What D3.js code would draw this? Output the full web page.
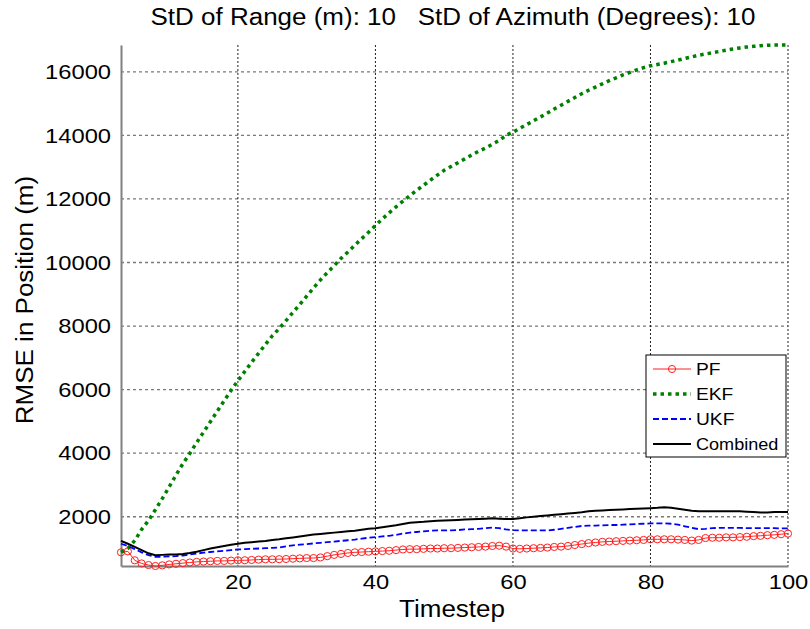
<!DOCTYPE html>
<html>
<head>
<meta charset="utf-8">
<script src="https://cdn.jsdelivr.net/npm/d3@7"></script>
<style>
  body { margin: 0; background: #fff; }
  text { font-family: "Liberation Sans", Arial, sans-serif; fill: #000; }
</style>
</head>
<body>
<svg id="chart" width="810" height="629"></svg>
<script>
// timesteps 3..100
let timesteps = d3.range(3, 101);

let pf = [880, 910, 630, 530, 480, 450, 470, 500, 520, 540, 560, 580, 590, 600, 610, 610, 620, 630, 630, 640,
  650, 660, 660, 665, 670, 680, 690, 700, 700, 720, 760, 800, 830, 860, 880, 890, 900, 910, 920, 930,
  950, 970, 980, 980, 990, 1000, 1000, 1010, 1010, 1020, 1030, 1040, 1050, 1060, 1080, 1090, 1060, 1000, 990, 1000,
  1010, 1020, 1030, 1050, 1060, 1080, 1110, 1140, 1170, 1190, 1210, 1220, 1230, 1240, 1250, 1260, 1270, 1290, 1290, 1290,
  1290, 1280, 1270, 1250, 1270, 1330, 1340, 1340, 1350, 1350, 1360, 1370, 1390, 1400, 1420, 1430, 1450, 1470];

let ekf = [880, 1000, 1250, 1600, 1880, 2220, 2570, 2940, 3310, 3670, 3990, 4330, 4660, 4990, 5320, 5650, 5970, 6280, 6570, 6860,
  7140, 7420, 7690, 7920, 8170, 8430, 8680, 8940, 9200, 9450, 9680, 9900, 10130, 10330, 10540, 10750, 10950, 11160, 11370, 11560,
  11750, 11930, 12100, 12270, 12430, 12590, 12750, 12900, 13020, 13140, 13260, 13380, 13500, 13600, 13720, 13840, 14000, 14100, 14220, 14340,
  14460, 14580, 14700, 14830, 14950, 15070, 15190, 15310, 15420, 15520, 15620, 15720, 15810, 15900, 15980, 16060, 16130, 16190, 16230, 16270,
  16320, 16370, 16420, 16470, 16520, 16560, 16600, 16640, 16680, 16720, 16750, 16780, 16800, 16820, 16835, 16840, 16840, 16840];

let ukf = [1150, 1080, 980, 880, 790, 740, 740, 750, 760, 780, 810, 840, 870, 890, 910, 930, 950, 970, 980, 990,
  1000, 1010, 1020, 1030, 1070, 1100, 1120, 1140, 1160, 1180, 1200, 1220, 1240, 1260, 1280, 1310, 1340, 1360, 1380, 1400,
  1430, 1470, 1500, 1520, 1540, 1560, 1570, 1570, 1570, 1580, 1600, 1610, 1620, 1640, 1660, 1640, 1600, 1580, 1570, 1570,
  1570, 1570, 1570, 1590, 1620, 1650, 1680, 1710, 1720, 1720, 1730, 1740, 1740, 1750, 1760, 1770, 1780, 1790, 1790, 1790,
  1780, 1750, 1700, 1650, 1610, 1620, 1640, 1650, 1650, 1650, 1650, 1640, 1640, 1640, 1640, 1640, 1635, 1635];

let combined = [1240, 1150, 1050, 950, 850, 790, 800, 810, 815, 830, 860, 900, 950, 1000, 1040, 1080, 1120, 1150, 1180, 1200,
  1220, 1240, 1270, 1290, 1320, 1350, 1380, 1410, 1440, 1460, 1480, 1500, 1520, 1540, 1560, 1590, 1620, 1640, 1670, 1700,
  1730, 1770, 1810, 1830, 1840, 1860, 1870, 1880, 1890, 1900, 1910, 1920, 1930, 1940, 1950, 1940, 1930, 1930, 1950, 1980,
  2000, 2020, 2040, 2060, 2080, 2100, 2120, 2140, 2170, 2190, 2200, 2210, 2220, 2230, 2240, 2250, 2260, 2270, 2280, 2300,
  2280, 2250, 2220, 2190, 2170, 2170, 2170, 2170, 2170, 2170, 2170, 2160, 2150, 2130, 2130, 2150, 2150, 2150];

let xTicks = [20, 40, 60, 80, 100];
let yTicks = [2000, 4000, 6000, 8000, 10000, 12000, 14000, 16000];
let seriesNames = ["PF", "EKF", "UKF", "Combined"];
let titleText = "StD of Range (m): 10   StD of Azimuth (Degrees): 10";

let svg = d3.select("#chart");
let margin = {left: 121, top: 45, right: 22, bottom: 63};
let width = 810 - margin.left - margin.right;
let height = 629 - margin.top - margin.bottom;
let stretch = 1.13; // text in the picture is a little wider than the font

let xScale = d3.scaleLinear().domain([3, 100]).range([margin.left, margin.left + width]);
let yScale = d3.scaleLinear().domain([450, 16843]).range([margin.top + height, margin.top]);

// grid
svg.append("g").selectAll("line")
    .data(yTicks)
    .enter().append("line")
    .attr("x1", margin.left).attr("x2", margin.left + width)
    .attr("y1", d => yScale(d)).attr("y2", d => yScale(d))
    .style("stroke", "#7a7a7a")
    .style("stroke-width", 1.3)
    .style("stroke-dasharray", "3,3");

svg.append("g").selectAll("line")
    .data(xTicks)
    .enter().append("line")
    .attr("x1", d => xScale(d)).attr("x2", d => xScale(d))
    .attr("y1", margin.top).attr("y2", margin.top + height)
    .style("stroke", "#222")
    .style("stroke-width", 1)
    .style("stroke-dasharray", "2,2");

// axes
let xAxis = d3.axisBottom(xScale).tickValues(xTicks).tickSize(0).tickPadding(8);
let yAxis = d3.axisLeft(yScale).tickValues(yTicks).tickSize(0).tickPadding(10).tickFormat(d3.format("d"));

let gx = svg.append("g").attr("transform", `translate(0,${margin.top + height})`).call(xAxis);
let gy = svg.append("g").attr("transform", `translate(${margin.left},0)`).call(yAxis);
[gx, gy].forEach(g => {
  g.select(".domain").style("stroke", "#808080").style("stroke-width", 2);
  g.selectAll("text").style("font-size", "21px").style("font-family", "'Liberation Sans', Arial, sans-serif");
});
gx.selectAll("text").attr("transform", `scale(${stretch},1)`);
gy.selectAll("text").attr("x", -10 / stretch).attr("transform", `scale(${stretch},1)`);

// series
let line = d3.line().x((d, i) => xScale(timesteps[i])).y(d => yScale(d));

svg.append("path").datum(pf)
    .attr("d", line)
    .style("fill", "none").style("stroke", "#ff2020").style("stroke-width", 1);
svg.append("g").selectAll("circle")
    .data(pf)
    .enter().append("circle")
    .attr("cx", (d, i) => xScale(timesteps[i]))
    .attr("cy", d => yScale(d))
    .attr("r", 3.6)
    .style("fill", "none").style("stroke", "#ff2020").style("stroke-width", 1);

svg.append("path").datum(ekf)
    .attr("d", line)
    .style("fill", "none").style("stroke", "#008000").style("stroke-width", 3.5)
    .style("stroke-dasharray", "3.5,4");

svg.append("path").datum(ukf)
    .attr("d", line)
    .style("fill", "none").style("stroke", "#0000ff").style("stroke-width", 1.8)
    .style("stroke-dasharray", "6,3");

svg.append("path").datum(combined)
    .attr("d", line)
    .style("fill", "none").style("stroke", "#000").style("stroke-width", 2);

// title and labels
svg.append("text")
    .attr("transform", `translate(453,25) scale(${stretch},1)`)
    .attr("text-anchor", "middle")
    .style("font-size", "23px")
    .attr("xml:space", "preserve")
    .text(titleText);

svg.append("text")
    .attr("transform", `translate(452,617) scale(${stretch},1)`)
    .attr("text-anchor", "middle")
    .style("font-size", "23px")
    .text("Timestep");

svg.append("text")
    .attr("transform", `translate(33,300) rotate(-90) scale(${stretch},1)`)
    .attr("text-anchor", "middle")
    .style("font-size", "23px")
    .text("RMSE in Position (m)");

// legend
let legend = svg.append("g");
legend.append("rect")
    .attr("x", 646).attr("y", 355).attr("width", 140).attr("height", 102)
    .style("fill", "#fff").style("stroke", "#000").style("stroke-width", 1);

let legendStyles = [
  {stroke: "#ff2020", width: 1, dash: null},
  {stroke: "#008000", width: 3.5, dash: "3.5,4"},
  {stroke: "#0000ff", width: 1.8, dash: "6,3"},
  {stroke: "#000", width: 2, dash: null}
];

seriesNames.forEach((name, i) => {
  let y = 369 + i * 25;
  let st = legendStyles[i];
  legend.append("line")
      .attr("x1", 653).attr("x2", 691).attr("y1", y).attr("y2", y)
      .style("stroke", st.stroke).style("stroke-width", st.width)
      .style("stroke-dasharray", st.dash);
  if (i === 0) {
    legend.append("circle").attr("cx", 672).attr("cy", y).attr("r", 3.6)
        .style("fill", "none").style("stroke", st.stroke);
  }
  legend.append("text")
      .attr("transform", `translate(696,${y + 6}) scale(${stretch},1)`)
      .style("font-size", i === 3 ? "16px" : "17px")
      .text(name);
});
</script>
</body>
</html>
